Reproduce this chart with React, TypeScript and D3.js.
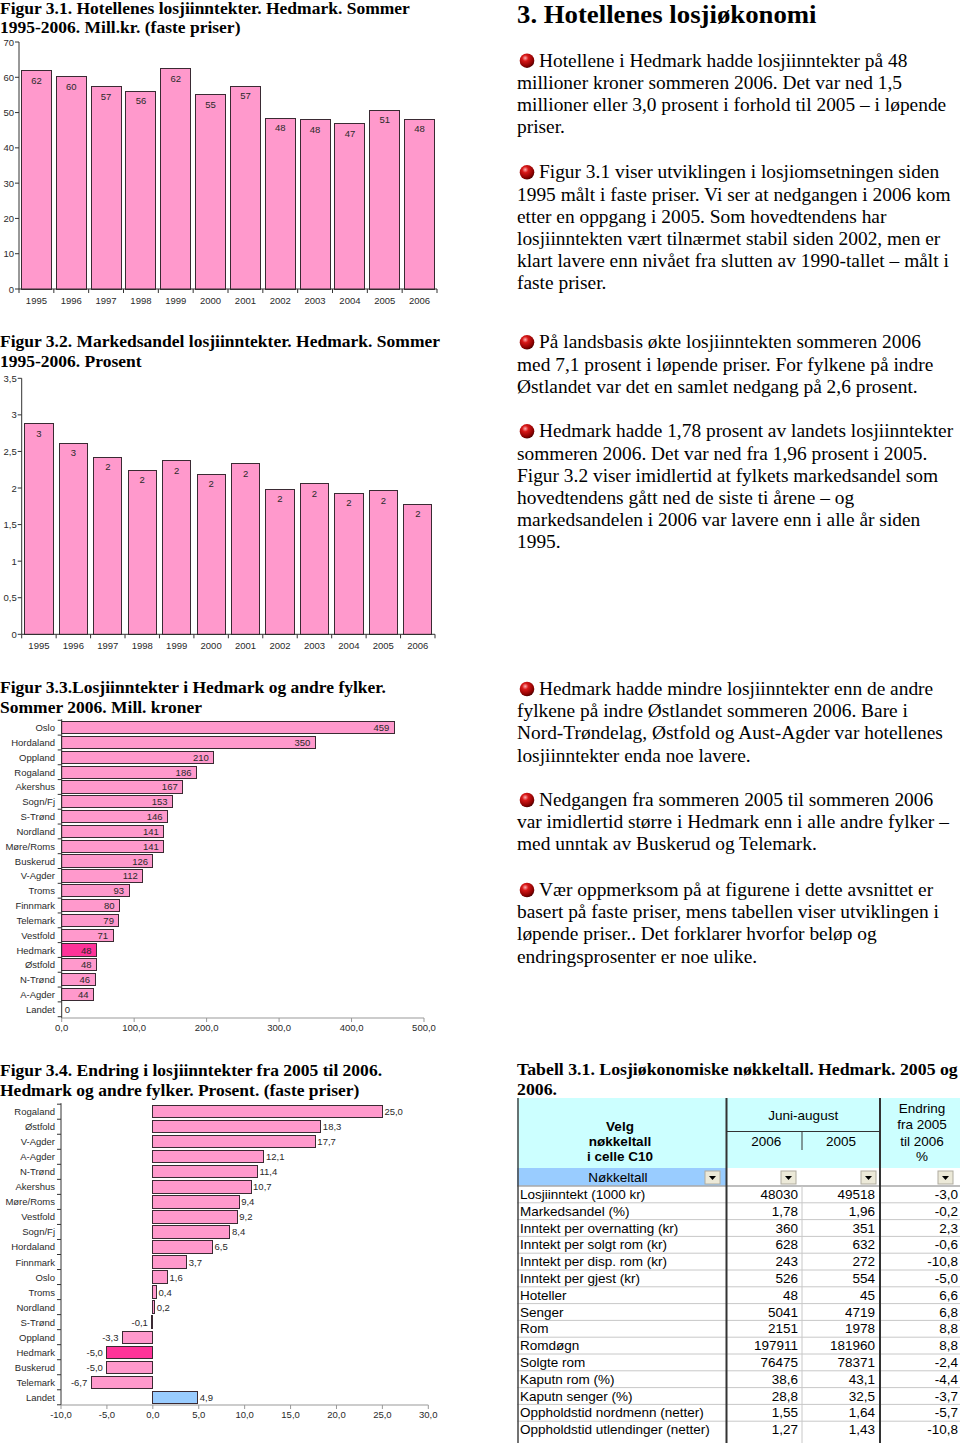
import React from "react";
import * as d3 from "d3";

// ---------- DATA ----------
const years = ["1995", "1996", "1997", "1998", "1999", "2000", "2001", "2002", "2003", "2004", "2005", "2006"];
const revenueHedmark = [61.9, 60.1, 57.3, 56.0, 62.4, 55.1, 57.4, 48.4, 47.9, 46.9, 50.6, 48.1];
const marketShare = [2.88, 2.61, 2.42, 2.24, 2.37, 2.19, 2.33, 1.98, 2.06, 1.93, 1.96, 1.78];
const yTicks1 = [0, 10, 20, 30, 40, 50, 60, 70];
const yTicks2 = [0, 0.5, 1, 1.5, 2, 2.5, 3, 3.5];

const counties3 = ["Oslo", "Hordaland", "Oppland", "Rogaland", "Akershus", "Sogn/Fj", "S-Trønd", "Nordland", "Møre/Roms", "Buskerud", "V-Agder", "Troms", "Finnmark", "Telemark", "Vestfold", "Hedmark", "Østfold", "N-Trønd", "A-Agder", "Landet"];
const revenue2006 = [459, 350, 210, 186, 167, 153, 146, 141, 141, 126, 112, 93, 80, 79, 71, 48, 48, 46, 44, 0];
const xTicks3 = [0, 100, 200, 300, 400, 500];

const counties4 = ["Rogaland", "Østfold", "V-Agder", "A-Agder", "N-Trønd", "Akershus", "Møre/Roms", "Vestfold", "Sogn/Fj", "Hordaland", "Finnmark", "Oslo", "Troms", "Nordland", "S-Trønd", "Oppland", "Hedmark", "Buskerud", "Telemark", "Landet"];
const change0506 = [25.0, 18.3, 17.7, 12.1, 11.4, 10.7, 9.4, 9.2, 8.4, 6.5, 3.7, 1.6, 0.4, 0.2, -0.1, -3.3, -5.0, -5.0, -6.7, 4.9];
const xTicks4 = [-10, -5, 0, 5, 10, 15, 20, 25, 30];

const tableLabels = ["Losjiinntekt (1000 kr)", "Markedsandel (%)", "Inntekt per overnatting (kr)", "Inntekt per solgt rom (kr)", "Inntekt per disp. rom (kr)", "Inntekt per gjest (kr)", "Hoteller", "Senger", "Rom", "Romdøgn", "Solgte rom", "Kaputn rom (%)", "Kaputn senger (%)", "Oppholdstid nordmenn (netter)", "Oppholdstid utlendinger (netter)"];
const table2006 = [48030, 1.78, 360, 628, 243, 526, 48, 5041, 2151, 197911, 76475, 38.6, 28.8, 1.55, 1.27];
const table2005 = [49518, 1.96, 351, 632, 272, 554, 45, 4719, 1978, 181960, 78371, 43.1, 32.5, 1.64, 1.43];
const tableChange = [-3.0, -0.2, 2.3, -0.6, -10.8, -5.0, 6.6, 6.8, 8.8, 8.8, -2.4, -4.4, -3.7, -5.7, -10.8];
const tableDecimals = [0, 2, 0, 0, 0, 0, 0, 0, 0, 0, 0, 1, 1, 2, 2];

const paragraphs = [
  { y: 66.7, lines: ["Hotellene i Hedmark hadde losjiinntekter på 48", "millioner kroner sommeren 2006. Det var ned 1,5", "millioner eller 3,0 prosent i forhold til 2005 – i løpende", "priser."] },
  { y: 178.3, lines: ["Figur 3.1 viser utviklingen i losjiomsetningen siden", "1995 målt i faste priser. Vi ser at nedgangen i 2006 kom", "etter en oppgang i 2005. Som hovedtendens har", "losjiinntekten vært tilnærmet stabil siden 2002, men er", "klart lavere enn nivået fra slutten av 1990-tallet – målt i", "faste priser."] },
  { y: 348.3, lines: ["På landsbasis økte losjiinntekten sommeren 2006", "med 7,1 prosent i løpende priser. For fylkene på indre", "Østlandet var det en samlet nedgang på 2,6 prosent."] },
  { y: 437.3, lines: ["Hedmark hadde 1,78 prosent av landets losjiinntekter", "sommeren 2006. Det var ned fra 1,96 prosent i 2005.", "Figur 3.2 viser imidlertid at fylkets markedsandel som", "hovedtendens gått ned de siste ti årene – og", "markedsandelen i 2006 var lavere enn i alle år siden", "1995."] },
  { y: 695, lines: ["Hedmark hadde mindre losjiinntekter enn de andre", "fylkene på indre Østlandet sommeren 2006. Bare i", "Nord-Trøndelag, Østfold og Aust-Agder var hotellenes", "losjiinntekter enda noe lavere."] },
  { y: 806, lines: ["Nedgangen fra sommeren 2005 til sommeren 2006", "var imidlertid større i Hedmark enn i alle andre fylker –", "med unntak av Buskerud og Telemark."] },
  { y: 896, lines: ["Vær oppmerksom på at figurene i dette avsnittet er", "basert på faste priser, mens tabellen viser utviklingen i", "løpende priser.. Det forklarer hvorfor beløp og", "endringsprosenter er noe ulike."] },
];

// ---------- STYLE ----------
const loc = d3.formatLocale({ decimal: ",", thousands: " ", grouping: [3], currency: ["", " kr"], minus: "-" });
const PINK = "#ff99cc";
const HOT = "#ff3399";
const BLUE = "#99ccff";
const EDGE = "#3a2a33";
const SANS = "'Liberation Sans', Arial, sans-serif";
const SERIF = "'Liberation Serif', 'Times New Roman', serif";
const TXT = "#2a2a2a";

function SText({ x, y, sx, children, ...rest }: any) {
  return (
    <g transform={`translate(${x},${y}) scale(${sx},1)`}>
      <text x={0} y={0} {...rest}>{children}</text>
    </g>
  );
}

function Title({ x, y, lines, sx = 1.062 }: { x: number; y: number; lines: string[]; sx?: number }) {
  return (
    <g>
      {lines.map((l, i) => (
        <SText key={i} x={x} y={y + i * 19.5} sx={sx} fontFamily={SERIF} fontWeight="bold" fontSize={16.5} fill="#000">
          {l}
        </SText>
      ))}
    </g>
  );
}

function VBarChart(props: {
  cats: string[]; values: number[]; ticks: number[]; max: number; x0: number; x1: number; yTop: number; yBottom: number;
  pad: number; tickFmt: (d: number) => string; labelFmt: (d: number) => string;
}) {
  const { cats, values, ticks, max, x0, x1, yTop, yBottom, pad, tickFmt, labelFmt } = props;
  const x = d3.scaleBand().domain(cats).range([x0, x1]).paddingInner(pad).paddingOuter(pad / 2);
  const y = d3.scaleLinear().domain([0, max]).range([yBottom, yTop]);
  const bounds = d3.range(cats.length + 1).map((i) => x0 + i * x.step());
  return (
    <g>
      {cats.map((c, i) => (
        <g key={c}>
          <rect x={x(c)} y={y(values[i])} width={x.bandwidth()} height={y(0) - y(values[i])} fill={PINK} stroke={EDGE} strokeWidth={1} shapeRendering="crispEdges" />
          <text x={(x(c) as number) + x.bandwidth() / 2} y={y(values[i]) + 13} textAnchor="middle" fontFamily={SANS} fontSize={9.5} fill={TXT}>
            {labelFmt(values[i])}
          </text>
          <text x={(x(c) as number) + x.bandwidth() / 2} y={yBottom + 15} textAnchor="middle" fontFamily={SANS} fontSize={9.5} fill={TXT}>
            {c}
          </text>
        </g>
      ))}
      <line x1={x0} x2={x0} y1={yTop} y2={yBottom} stroke="#333" />
      <line x1={x0} x2={x1} y1={yBottom} y2={yBottom} stroke="#333" />
      {ticks.map((t) => (
        <g key={t}>
          <line x1={x0 - 4} x2={x0} y1={y(t)} y2={y(t)} stroke="#333" />
          <text x={x0 - 5} y={y(t) + 3.5} textAnchor="end" fontFamily={SANS} fontSize={9.5} fill={TXT}>
            {tickFmt(t)}
          </text>
        </g>
      ))}
      {bounds.map((b, i) => (
        <line key={i} x1={b} x2={b} y1={yBottom} y2={yBottom + 4} stroke="#333" />
      ))}
    </g>
  );
}

function HBarChart(props: {
  cats: string[]; values: number[]; ticks: number[]; domain: [number, number]; x0: number; x1: number; yTop: number; yBottom: number;
  axisY: number; pad: number; fmt: (d: number) => string; tickFmt: (d: number) => string; inside: boolean;
}) {
  const { cats, values, ticks, domain, x0, x1, yTop, yBottom, axisY, pad, fmt, tickFmt, inside } = props;
  const x = d3.scaleLinear().domain(domain).range([x0, x1]);
  const y = d3.scaleBand().domain(cats).range([yTop, yBottom]).paddingInner(pad).paddingOuter(pad / 2);
  const bounds = d3.range(cats.length + 1).map((i) => yTop + i * y.step());
  const colorOf = (c: string) => (c === "Hedmark" ? HOT : c === "Landet" && !inside ? BLUE : PINK);
  return (
    <g>
      {cats.map((c, i) => {
        const v = values[i];
        const xa = x(Math.min(0, v));
        const xb = x(Math.max(0, v));
        const yc = (y(c) as number) + y.bandwidth() / 2;
        let lx: number, anchor: string;
        if (inside) {
          if (xb - xa > 22) { lx = xb - 5; anchor = "end"; } else { lx = xb + 3; anchor = "start"; }
        } else if (v >= 0) { lx = xb + 2; anchor = "start"; } else { lx = xa - 4; anchor = "end"; }
        return (
          <g key={c}>
            {v !== 0 && (
              <rect x={xa} y={y(c)} width={Math.max(xb - xa, 1)} height={y.bandwidth()} fill={colorOf(c)} stroke={EDGE} strokeWidth={1} shapeRendering="crispEdges" />
            )}
            <text x={lx} y={yc + 3.5} textAnchor={anchor} fontFamily={SANS} fontSize={9.5} fill={TXT}>
              {fmt(v)}
            </text>
            <text x={55} y={yc + 3.5} textAnchor="end" fontFamily={SANS} fontSize={9.5} fill={TXT}>
              {c}
            </text>
          </g>
        );
      })}
      <line x1={x0} x2={x0} y1={yTop - 1} y2={axisY} stroke="#333" />
      {bounds.map((b, i) => (
        <line key={i} x1={x0 - 4} x2={x0} y1={b} y2={b} stroke="#333" />
      ))}
      <line x1={x0} x2={x1} y1={axisY} y2={axisY} stroke="#999" />
      {ticks.map((t) => (
        <g key={t}>
          <line x1={x(t)} x2={x(t)} y1={axisY} y2={axisY + 4} stroke="#999" />
          <text x={x(t)} y={axisY + 13} textAnchor="middle" fontFamily={SANS} fontSize={9.5} fill={TXT}>
            {tickFmt(t)}
          </text>
        </g>
      ))}
    </g>
  );
}

function Bullet({ cx, cy }: { cx: number; cy: number }) {
  return <circle cx={cx} cy={cy} r={7.3} fill="url(#ball)" />;
}

function Dropdown({ x, y }: { x: number; y: number }) {
  return (
    <g>
      <rect x={x} y={y} width={15} height={13} fill="#ece9d8" stroke="#b0aca0" />
      <path d={`M${x + 4},${y + 5} L${x + 11},${y + 5} L${x + 7.5},${y + 9} Z`} fill="#000" />
    </g>
  );
}

function Table() {
  const c0 = 517, c1 = 726.5, c2 = 802, c3 = 880, c4 = 960;
  const top = 1186, pitch = 16.8;
  const rowY = d3.range(tableLabels.length).map((i) => top + i * pitch);
  const f1 = loc.format(".1f");
  const fd = (v: number, d: number) => loc.format(`.${d}f`)(v);
  const hs = { fontFamily: SANS, fontSize: 13.5, fill: "#000" } as const;
  return (
    <g>
      <rect x={c0} y={1098} width={c4 - c0} height={70} fill="#ccffff" />
      <rect x={c0} y={1168} width={c1 - c0} height={18} fill={BLUE} />
      <rect x={c1} y={1168} width={c4 - c1} height={18} fill="#fff" />
      <text x={620} y={1131} textAnchor="middle" {...hs} fontWeight="bold">Velg</text>
      <text x={620} y={1146} textAnchor="middle" {...hs} fontWeight="bold">nøkkeltall</text>
      <text x={620} y={1161} textAnchor="middle" {...hs} fontWeight="bold">i celle C10</text>
      <text x={(c1 + c3) / 2} y={1120} textAnchor="middle" {...hs}>Juni-august</text>
      <line x1={c1} x2={c3} y1={1131.5} y2={1131.5} stroke="#333" />
      <line x1={c2} x2={c2} y1={1132} y2={1150} stroke="#333" />
      <text x={(c1 + c2) / 2 + 2} y={1146} textAnchor="middle" {...hs}>2006</text>
      <text x={(c2 + c3) / 2} y={1146} textAnchor="middle" {...hs}>2005</text>
      <text x={(c3 + c4) / 2 + 2} y={1113} textAnchor="middle" {...hs}>Endring</text>
      <text x={(c3 + c4) / 2 + 2} y={1129} textAnchor="middle" {...hs}>fra 2005</text>
      <text x={(c3 + c4) / 2 + 2} y={1146} textAnchor="middle" {...hs}>til 2006</text>
      <text x={(c3 + c4) / 2 + 2} y={1161} textAnchor="middle" {...hs}>%</text>
      <text x={618} y={1182} textAnchor="middle" {...hs}>Nøkkeltall</text>
      <Dropdown x={705} y={1171} />
      <Dropdown x={781} y={1171} />
      <Dropdown x={861} y={1171} />
      <Dropdown x={938} y={1171} />
      {rowY.map((ry, i) => (
        <g key={i}>
          <line x1={c0} x2={c4} y1={ry} y2={ry} stroke="#c8c8c8" />
          <text x={c0 + 3} y={ry + 13} {...hs}>{tableLabels[i]}</text>
          <text x={798} y={ry + 13} textAnchor="end" {...hs}>{fd(table2006[i], tableDecimals[i])}</text>
          <text x={875} y={ry + 13} textAnchor="end" {...hs}>{fd(table2005[i], tableDecimals[i])}</text>
          <text x={958} y={ry + 13} textAnchor="end" {...hs}>{f1(tableChange[i])}</text>
        </g>
      ))}
      <line x1={c0} x2={c4} y1={1186} y2={1186} stroke="#999" />
      <line x1={c2} x2={c2} y1={1186} y2={1443} stroke="#c8c8c8" />
      <line x1={c0 + 1} x2={c0 + 1} y1={1098} y2={1443} stroke="#444" strokeWidth={1.5} />
      <line x1={c1} x2={c1} y1={1098} y2={1443} stroke="#333" strokeWidth={2} />
      <line x1={c3} x2={c3} y1={1098} y2={1443} stroke="#333" strokeWidth={2} />
    </g>
  );
}

export default function App() {
  const intFmt = loc.format(".0f");
  const tick2 = (d: number) => loc.format("~g")(d);
  const f1 = loc.format(".1f");
  return (
    <>
      <style>{`body{margin:0;background:#fff}`}</style>
      <svg width={960} height={1443} style={{ display: "block", background: "#fff" }}>
        <defs>
          <radialGradient id="ball" cx="0.38" cy="0.32" r="0.7">
            <stop offset="0" stopColor="#ffb0b0" />
            <stop offset="0.3" stopColor="#d81818" />
            <stop offset="0.8" stopColor="#8a0000" />
            <stop offset="1" stopColor="#4a0000" />
          </radialGradient>
        </defs>

        <Title x={0} y={13.5} lines={["Figur 3.1. Hotellenes losjiinntekter. Hedmark. Sommer", "1995-2006. Mill.kr. (faste priser)"]} />
        <VBarChart cats={years} values={revenueHedmark} ticks={yTicks1} max={70} x0={19} x1={437} yTop={42} yBottom={289} pad={0.14} tickFmt={intFmt} labelFmt={intFmt} />

        <Title x={0} y={347} lines={["Figur 3.2. Markedsandel losjiinntekter. Hedmark. Sommer", "1995-2006. Prosent"]} />
        <VBarChart cats={years} values={marketShare} ticks={yTicks2} max={3.5} x0={21.7} x1={435} yTop={378.3} yBottom={634.3} pad={0.18} tickFmt={tick2} labelFmt={intFmt} />

        <Title x={0} y={693} lines={["Figur 3.3.Losjiinntekter i Hedmark og andre fylker.", "Sommer 2006. Mill. kroner"]} />
        <HBarChart cats={counties3} values={revenue2006} ticks={xTicks3} domain={[0, 500]} x0={61.7} x1={424} yTop={720.3} yBottom={1016.7} axisY={1018} pad={0.17} fmt={intFmt} tickFmt={f1} inside={true} />

        <Title x={0} y={1076} lines={["Figur 3.4. Endring i losjiinntekter fra 2005 til 2006.", "Hedmark og andre fylker. Prosent. (faste priser)"]} />
        <HBarChart cats={counties4} values={change0506} ticks={xTicks4} domain={[-10, 30]} x0={61} x1={428.3} yTop={1104.2} yBottom={1404.8} axisY={1405} pad={0.18} fmt={f1} tickFmt={f1} inside={false} />

        <SText x={517} y={22.5} sx={1.05} fontFamily={SERIF} fontWeight="bold" fontSize={25.5} fill="#000">3. Hotellenes losjiøkonomi</SText>
        {paragraphs.map((p, pi) => (
          <g key={pi}>
            <Bullet cx={527} cy={p.y - 6} />
            {p.lines.map((l, li) => (
              <SText key={li} x={li === 0 ? 539 : 517} y={p.y + li * 22.2} sx={1.078} fontFamily={SERIF} fontSize={18} fill="#000">
                {l}
              </SText>
            ))}
          </g>
        ))}

        <Title x={517} y={1075} sx={1.078} lines={["Tabell 3.1. Losjiøkonomiske nøkkeltall. Hedmark. 2005 og", "2006."]} />
        <Table />
      </svg>
    </>
  );
}
